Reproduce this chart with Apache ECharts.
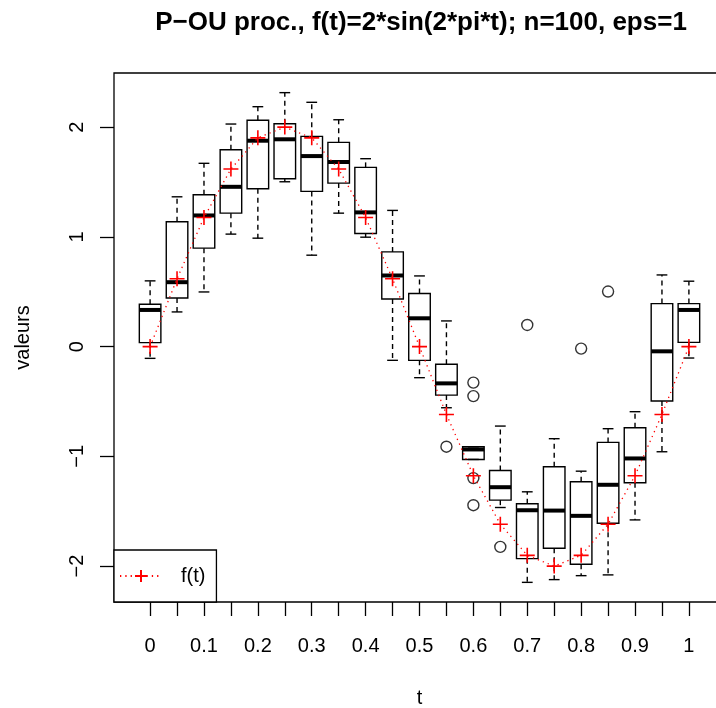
<!DOCTYPE html>
<html>
<head>
<meta charset="utf-8">
<script src="https://cdn.jsdelivr.net/npm/echarts@6/dist/echarts.min.js"></script>
<style>
html,body{margin:0;padding:0;background:#fff;}
#chart{width:716px;height:708px;}
</style>
</head>
<body>
<div id="chart"></div>
<script>
// ---- data ----
var tValues = [0, 0.05, 0.1, 0.15, 0.2, 0.25, 0.3, 0.35, 0.4, 0.45, 0.5, 0.55, 0.6, 0.65, 0.7, 0.75, 0.8, 0.85, 0.9, 0.95, 1];
var lowerWhisker = [-0.107, 0.316, 0.498, 1.025, 0.988, 1.502, 0.833, 1.216, 0.997, -0.125, -0.283, -0.557, -1.028, -1.466, -2.148, -2.123, -2.087, -2.080, -1.579, -0.958, -0.104];
var q1 = [0.036, 0.443, 0.897, 1.216, 1.438, 1.529, 1.414, 1.490, 1.031, 0.434, -0.125, -0.442, -1.028, -1.399, -1.932, -1.837, -1.983, -1.609, -1.241, -0.496, 0.039];
var median = [0.334, 0.587, 1.195, 1.456, 1.876, 1.889, 1.736, 1.682, 1.223, 0.648, 0.258, -0.335, -0.937, -1.281, -1.491, -1.494, -1.542, -1.259, -1.019, -0.043, 0.334];
var q3 = [0.386, 1.137, 1.383, 1.794, 2.062, 2.031, 1.916, 1.861, 1.633, 0.863, 0.484, -0.161, -0.913, -1.129, -1.432, -1.095, -1.232, -0.873, -0.739, 0.392, 0.392];
var upperWhisker = [0.599, 1.365, 1.670, 2.028, 2.186, 2.314, 2.226, 2.067, 1.712, 1.241, 0.644, 0.234, -0.913, -0.724, -1.323, -0.839, -1.135, -0.748, -0.593, 0.653, 0.596];
var outlierT = [0.55, 0.6, 0.6, 0.6, 0.6, 0.65, 0.7, 0.8, 0.85];
var outlierV = [-0.912, -0.328, -0.451, -1.198, -1.445, -1.825, 0.197, -0.018, 0.502];
var fValues = [0, 0.618, 1.176, 1.618, 1.902, 2, 1.902, 1.618, 1.176, 0.618, 0, -0.618, -1.176, -1.618, -1.902, -2, -1.902, -1.618, -1.176, -0.618, 0];
var xTickLabelValues = [0, 0.1, 0.2, 0.3, 0.4, 0.5, 0.6, 0.7, 0.8, 0.9, 1];
var xTickLabels = ['0', '0.1', '0.2', '0.3', '0.4', '0.5', '0.6', '0.7', '0.8', '0.9', '1'];
var yTickValues = [-2, -1, 0, 1, 2];
var yTickLabels = ['\u22122', '\u22121', '0', '1', '2'];

var FONT = '"Liberation Sans", Arial, Helvetica, sans-serif';
var BOX_W = 0.04; // box width in t units (0.8 of spacing)

var boxData = tValues.map(function (t, i) {
  return [t, lowerWhisker[i], q1[i], median[i], q3[i], upperWhisker[i]];
});
var outlierData = outlierT.map(function (t, i) { return [t, outlierV[i]]; });
var fData = tValues.map(function (t, i) { return [t, fValues[i]]; });

function labelFor(values, labels, v) {
  for (var i = 0; i < values.length; i++) {
    if (Math.abs(values[i] - v) < 1e-9) return labels[i];
  }
  return '';
}

var chart = echarts.init(document.getElementById('chart'), null, { renderer: 'canvas' });
chart.setOption({
  animation: false,
  backgroundColor: '#fff',
  textStyle: { fontFamily: FONT },
  title: {
    text: 'P\u2212OU proc., f(t)=2*sin(2*pi*t); n=100, eps=1',
    left: 416,
    top: 5,
    textAlign: 'center',
    textStyle: { fontFamily: FONT, fontWeight: 'bold', fontSize: 26, color: '#000' }
  },
  grid: {
    left: 114, right: -9, top: 73, bottom: 106,
    outerBoundsMode: 'none',
    containLabel: false,
    show: true, borderColor: '#000', borderWidth: 1.3, backgroundColor: 'transparent'
  },
  xAxis: {
    type: 'value', min: -0.067, max: 1.067,
    name: 't', nameLocation: 'middle', nameGap: 86,
    nameTextStyle: { fontFamily: FONT, fontSize: 20, color: '#000' },
    axisLine: { show: false, onZero: false },
    splitLine: { show: false },
    axisTick: { show: true, customValues: tValues, length: 14, inside: false, lineStyle: { color: '#000', width: 1.3 } },
    axisLabel: {
      customValues: xTickLabelValues, margin: 34, fontSize: 20, color: '#000', fontFamily: FONT,
      formatter: function (v) { return labelFor(xTickLabelValues, xTickLabels, v); }
    }
  },
  yAxis: {
    type: 'value', min: -2.327, max: 2.493,
    name: 'valeurs', nameLocation: 'middle', nameGap: 81,
    nameTextStyle: { fontFamily: FONT, fontSize: 20, color: '#000' },
    axisLine: { show: false, onZero: false },
    splitLine: { show: false },
    axisTick: { show: true, customValues: yTickValues, length: 14, inside: false, lineStyle: { color: '#000', width: 1.3 } },
    axisLabel: {
      customValues: yTickValues, margin: 27, rotate: 90, fontSize: 20, color: '#000', fontFamily: FONT,
      formatter: function (v) { return labelFor(yTickValues, yTickLabels, v); }
    }
  },
  legend: {
    data: ['f(t)'],
    left: 114, bottom: 106,
    orient: 'vertical',
    backgroundColor: '#fff',
    borderColor: '#000', borderWidth: 1.3, borderRadius: 0,
    padding: [16, 11, 16, 5],
    itemWidth: 42, itemHeight: 15,
    textStyle: { fontFamily: FONT, fontSize: 20, color: '#000', padding: [0, 0, 0, 14] }
  },
  series: [
    {
      type: 'custom',
      name: 'boxes',
      data: boxData,
      z: 2,
      silent: true,
      renderItem: function (params, api) {
        var t = api.value(0);
        var pLw = api.coord([t, api.value(1)]);
        var pQ1 = api.coord([t, api.value(2)]);
        var pMd = api.coord([t, api.value(3)]);
        var pQ3 = api.coord([t, api.value(4)]);
        var pUw = api.coord([t, api.value(5)]);
        var halfBox = api.size([BOX_W, 0])[0] / 2;
        var halfCap = halfBox / 2;
        var x = pMd[0];
        var dash = { stroke: '#000', lineWidth: 1.4, lineDash: [5, 4] };
        var solid = { stroke: '#000', lineWidth: 1.4 };
        return {
          type: 'group',
          children: [
            { type: 'line', shape: { x1: x, y1: pQ3[1], x2: x, y2: pUw[1] }, style: dash },
            { type: 'line', shape: { x1: x, y1: pQ1[1], x2: x, y2: pLw[1] }, style: dash },
            { type: 'line', shape: { x1: x - halfCap, y1: pUw[1], x2: x + halfCap, y2: pUw[1] }, style: solid },
            { type: 'line', shape: { x1: x - halfCap, y1: pLw[1], x2: x + halfCap, y2: pLw[1] }, style: solid },
            { type: 'rect', shape: { x: x - halfBox, y: pQ3[1], width: 2 * halfBox, height: pQ1[1] - pQ3[1] },
              style: { fill: 'none', stroke: '#000', lineWidth: 1.4 } },
            { type: 'line', shape: { x1: x - halfBox, y1: pMd[1], x2: x + halfBox, y2: pMd[1] },
              style: { stroke: '#000', lineWidth: 4 } }
          ]
        };
      }
    },
    {
      type: 'scatter',
      name: 'outliers',
      data: outlierData,
      z: 3,
      symbol: 'circle',
      symbolSize: 11,
      itemStyle: { color: 'transparent', borderColor: '#000', borderWidth: 1.4 },
      silent: true
    },
    {
      type: 'line',
      name: 'f(t)',
      data: fData,
      z: 4,
      symbol: 'path://M5,0 L5,10 M0,5 L10,5',
      symbolSize: 15,
      showSymbol: true,
      itemStyle: { color: 'red', borderColor: 'red', borderWidth: 1.6 },
      lineStyle: { color: 'red', width: 1.3, type: [1.3, 4] },
      silent: true
    }
  ]
});
</script>
</body>
</html>
